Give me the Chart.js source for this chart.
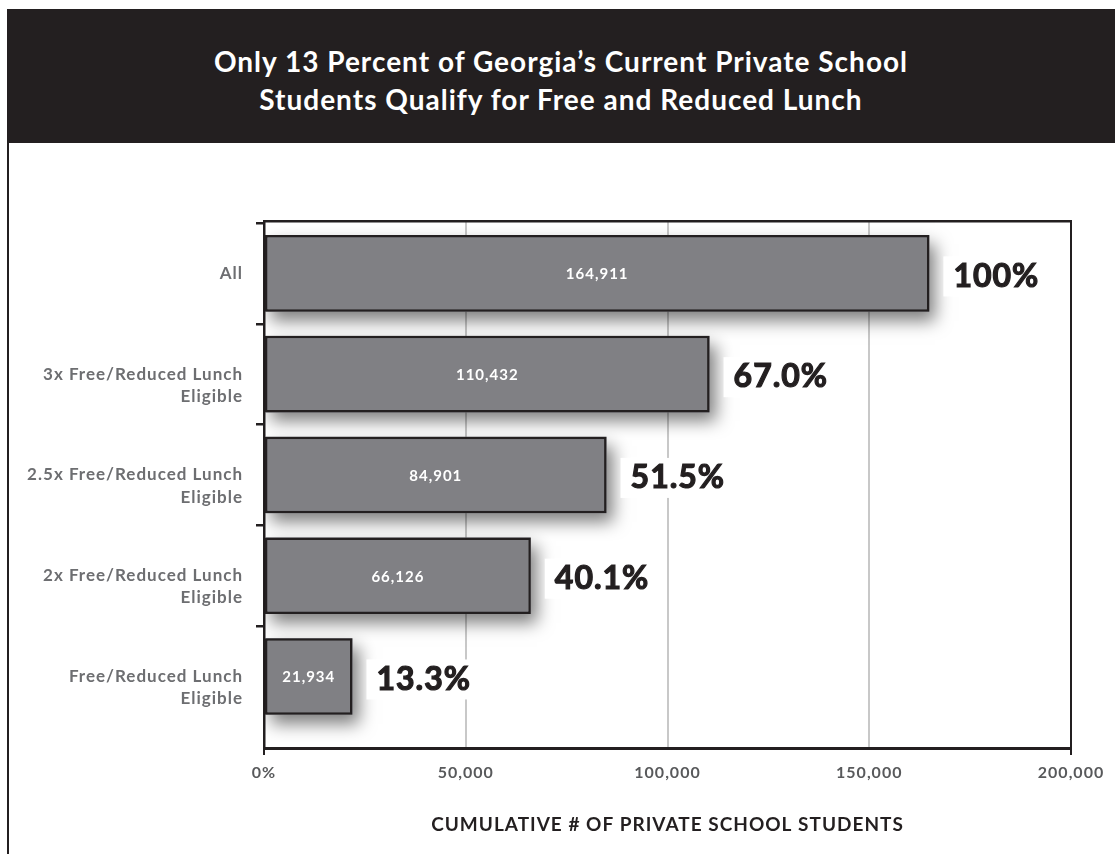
<!DOCTYPE html>
<html>
<head>
<meta charset="utf-8">
<title>Private school students and free/reduced lunch eligibility</title>
<script src="https://cdn.jsdelivr.net/npm/chart.js@4"></script>
<style>
  html, body { margin: 0; padding: 0; background: #fff; }
  #page { position: relative; width: 1115px; height: 854px; overflow: hidden; }
  #header {
    position: absolute; left: 7px; top: 9px; width: 1108px; height: 134px;
    box-sizing: border-box; padding-top: 33px;
    background: #231f20; color: #fff; text-align: center;
    font-family: Lato, sans-serif; font-weight: 700; font-size: 28px;
    line-height: 38px; letter-spacing: 1px;
  }
  #frame { position: absolute; left: 7px; top: 143px; width: 2px; height: 711px; background: #231f20; }
  #chart { position: absolute; left: 0; top: 0; }
</style>
</head>
<body>
<div id="page">
  <div id="header">Only 13 Percent of Georgia’s Current Private School<br>Students Qualify for Free and Reduced Lunch</div>
  <div id="frame"></div>
  <canvas id="chart" width="1115" height="854"></canvas>
</div>
<script>
// eligibility groups, top to bottom
const categories = [
  ['All'],
  ['3x Free/Reduced Lunch', 'Eligible'],
  ['2.5x Free/Reduced Lunch', 'Eligible'],
  ['2x Free/Reduced Lunch', 'Eligible'],
  ['Free/Reduced Lunch', 'Eligible']
];
const students = [164911, 110432, 84901, 66126, 21934];
const shareLabels = ['100%', '67.0%', '51.5%', '40.1%', '13.3%'];
const xTickLabels = ['0%', '50,000', '100,000', '150,000', '200,000'];

const DARK = '#231f20';
const BAR = '#808084';

// soft drop shadow under each bar, then counts inside and shares beside them
const barDecor = {
  id: 'barDecor',
  beforeDraw(chart) {
    chart.ctx.letterSpacing = '1px';
  },
  beforeDatasetsDraw(chart) {
    const ctx = chart.ctx;
    const area = chart.chartArea;
    ctx.save();
    ctx.beginPath();
    ctx.rect(area.left, area.top, area.width, area.height);
    ctx.clip();
    ctx.fillStyle = BAR;
    ctx.shadowColor = 'rgba(0,0,0,0.5)';
    ctx.shadowBlur = 16;
    ctx.shadowOffsetX = 6;
    ctx.shadowOffsetY = 9;
    chart.getDatasetMeta(0).data.forEach(bar => {
      const h = bar.height;
      ctx.fillRect(bar.base, bar.y - h / 2, bar.x - bar.base, h);
    });
    ctx.restore();
  },
  afterDatasetsDraw(chart) {
    const ctx = chart.ctx;
    ctx.save();
    ctx.textBaseline = 'middle';
    chart.getDatasetMeta(0).data.forEach((bar, i) => {
      ctx.font = 'bold 15px Lato';
      ctx.fillStyle = '#fff';
      ctx.textAlign = 'center';
      ctx.fillText(students[i].toLocaleString('en-US'), (bar.x + bar.base) / 2, bar.y + 1);

      // share label sits on a white plate that breaks the grid lines
      ctx.font = 'bold 32px Lato';
      const w = ctx.measureText(shareLabels[i]).width;
      ctx.fillStyle = '#fff';
      ctx.fillRect(bar.x + 14, bar.y - 17, w + 20, 40);
      ctx.fillStyle = DARK;
      ctx.strokeStyle = DARK;
      ctx.lineWidth = 1.2;
      ctx.textAlign = 'left';
      ctx.fillText(shareLabels[i], bar.x + 24, bar.y + 3);
      ctx.strokeText(shareLabels[i], bar.x + 24, bar.y + 3);
    });
    ctx.restore();
  }
};

new Chart(document.getElementById('chart'), {
  type: 'bar',
  data: {
    labels: categories.map(c => c.join(' ')),
    datasets: [{
      data: students,
      backgroundColor: BAR,
      borderColor: DARK,
      borderWidth: 2.5,
      borderSkipped: false,
      categoryPercentage: 1,
      barPercentage: 0.76
    }]
  },
  options: {
    indexAxis: 'y',
    responsive: false,
    animation: false,
    layout: { padding: { top: 221, right: 44, bottom: 0, left: 0 } },
    plugins: { legend: { display: false }, tooltip: { enabled: false } },
    scales: {
      y: {
        afterFit: s => { s.width = 264; },
        // leave a little extra room below the last bar
        afterBuildTicks: s => { s._startValue = -0.52; s._valueRange = 5.23; },
        grid: {
          offset: true,
          drawOnChartArea: false,
          tickLength: 8,
          lineWidth: 2.5,
          tickColor: c => (c.type === 'tick' ? DARK : 'transparent')
        },
        border: { color: DARK, width: 2.5 },
        ticks: {
          padding: 13,
          color: '#6d6e71',
          font: { family: 'Lato', weight: 'bold', size: 17, lineHeight: 1.3 },
          callback: (v, i) => {
            const lines = categories[i];
            return lines.length > 1 ? [''].concat(lines) : lines[0];
          }
        }
      },
      x: {
        min: 0,
        max: 200000,
        afterFit: s => { s.height = 106; },
        grid: {
          lineWidth: 2,
          tickLength: 7,
          color: c => (c.index === 0 || c.index === 4 ? DARK : '#c8c8c8'),
          tickColor: c => (c.index === 0 || c.index === 4 ? DARK : 'transparent')
        },
        border: { color: DARK, width: 3 },
        ticks: {
          stepSize: 50000,
          padding: 8,
          maxRotation: 0,
          autoSkip: false,
          color: '#58595b',
          font: { family: 'Lato', weight: 'bold', size: 16 },
          callback: (v, i) => xTickLabels[i]
        },
        title: {
          display: true,
          text: 'CUMULATIVE # OF PRIVATE SCHOOL STUDENTS',
          color: DARK,
          font: { family: 'Lato', weight: 'bold', size: 19 },
          padding: { top: 0, bottom: 18 }
        }
      },
      xTop: {
        type: 'linear',
        axis: 'x',
        position: 'top',
        min: 0,
        max: 200000,
        afterFit: s => { s.height = 0; },
        grid: { display: false },
        ticks: { display: false },
        border: { color: DARK, width: 2.5 }
      }
    }
  },
  plugins: [barDecor]
});
</script>
</body>
</html>
